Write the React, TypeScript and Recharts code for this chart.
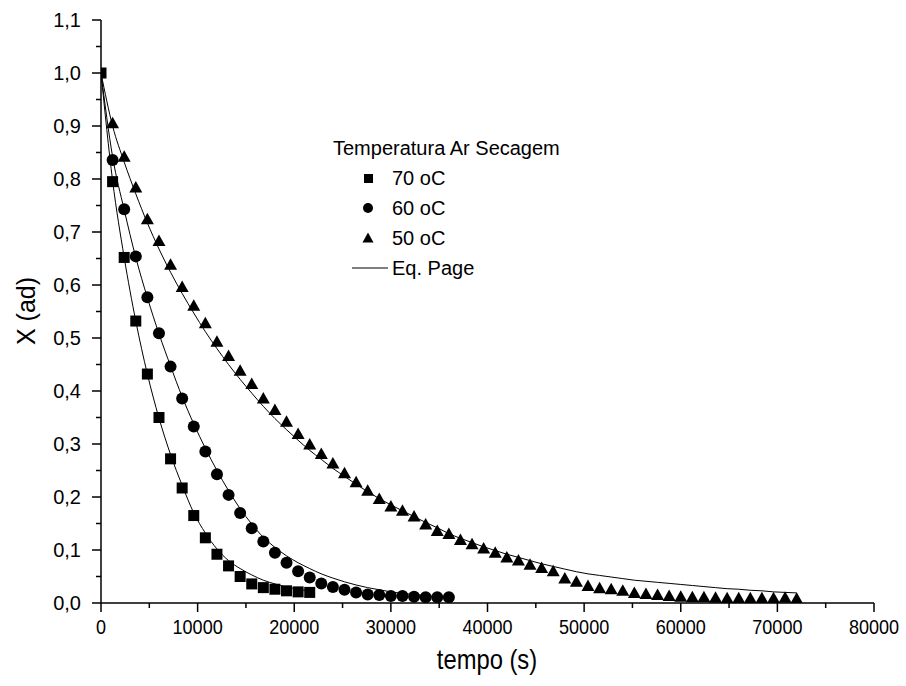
import { ComposedChart, Scatter, Line, XAxis, YAxis } from 'recharts'

// tempo (s) of the measured points
const t70 = [0, 1200, 2400, 3600, 4800, 6000, 7200, 8400, 9600, 10800, 12000, 13200, 14400, 15600, 16800, 18000, 19200, 20400, 21600]
const t60 = [0, 1200, 2400, 3600, 4800, 6000, 7200, 8400, 9600, 10800, 12000, 13200, 14400, 15600, 16800, 18000, 19200, 20400, 21600, 22800, 24000, 25200, 26400, 27600, 28800, 30000, 31200, 32400, 33600, 34800, 36000]
const t50 = [0, 1200, 2400, 3600, 4800, 6000, 7200, 8400, 9600, 10800, 12000, 13200, 14400, 15600, 16800, 18000, 19200, 20400, 21600, 22800, 24000, 25200, 26400, 27600, 28800, 30000, 31200, 32400, 33600, 34800, 36000, 37200, 38400, 39600, 40800, 42000, 43200, 44400, 45600, 46800, 48000, 49200, 50400, 51600, 52800, 54000, 55200, 56400, 57600, 58800, 60000, 61200, 62400, 63600, 64800, 66000, 67200, 68400, 69600, 70800, 72000]

// X (ad) measured
const x70 = [1.0, 0.795, 0.652, 0.532, 0.432, 0.35, 0.272, 0.217, 0.165, 0.123, 0.092, 0.07, 0.05, 0.036, 0.029, 0.026, 0.023, 0.021, 0.02]
const x60 = [1.0, 0.836, 0.743, 0.654, 0.577, 0.509, 0.446, 0.386, 0.333, 0.286, 0.243, 0.204, 0.17, 0.141, 0.116, 0.095, 0.076, 0.06, 0.048, 0.037, 0.03, 0.025, 0.02, 0.016, 0.015, 0.013, 0.013, 0.012, 0.011, 0.011, 0.011]
const x50 = [1.0, 0.905, 0.842, 0.784, 0.724, 0.683, 0.638, 0.596, 0.561, 0.528, 0.493, 0.466, 0.438, 0.413, 0.386, 0.364, 0.342, 0.319, 0.299, 0.281, 0.263, 0.245, 0.228, 0.212, 0.196, 0.182, 0.174, 0.163, 0.148, 0.136, 0.13, 0.119, 0.111, 0.103, 0.095, 0.086, 0.08, 0.072, 0.066, 0.06, 0.046, 0.04, 0.032, 0.028, 0.026, 0.023, 0.019, 0.017, 0.015, 0.013, 0.012, 0.011, 0.011, 0.01, 0.009, 0.009, 0.009, 0.009, 0.009, 0.01, 0.008]

// Eq. Page curves at the same times
const page70 = [1.0, 0.797, 0.652, 0.532, 0.432, 0.349, 0.28, 0.222, 0.17, 0.132, 0.102, 0.08, 0.065, 0.053, 0.043, 0.036, 0.03, 0.026, 0.022]
const page60 = [1.0, 0.842, 0.742, 0.652, 0.576, 0.508, 0.447, 0.389, 0.338, 0.292, 0.25, 0.212, 0.178, 0.149, 0.124, 0.105, 0.089, 0.076, 0.065, 0.055, 0.047, 0.04, 0.034, 0.029, 0.025, 0.021, 0.018, 0.016, 0.014, 0.012, 0.011]
const page50 = [1.0, 0.9, 0.832, 0.772, 0.717, 0.668, 0.624, 0.584, 0.547, 0.512, 0.48, 0.45, 0.422, 0.396, 0.371, 0.348, 0.327, 0.307, 0.288, 0.271, 0.254, 0.239, 0.224, 0.21, 0.197, 0.185, 0.174, 0.163, 0.152, 0.142, 0.131, 0.122, 0.114, 0.106, 0.099, 0.092, 0.086, 0.08, 0.074, 0.069, 0.064, 0.059, 0.055, 0.052, 0.049, 0.046, 0.043, 0.041, 0.039, 0.037, 0.035, 0.033, 0.031, 0.029, 0.027, 0.026, 0.024, 0.023, 0.021, 0.02, 0.019]

const xTicks = [0, 5000, 10000, 15000, 20000, 25000, 30000, 35000, 40000, 45000, 50000, 55000, 60000, 65000, 70000, 75000, 80000]
const xMajor = [0, 10000, 20000, 30000, 40000, 50000, 60000, 70000, 80000]
const yTicks = [0, 0.05, 0.1, 0.15, 0.2, 0.25, 0.3, 0.35, 0.4, 0.45, 0.5, 0.55, 0.6, 0.65, 0.7, 0.75, 0.8, 0.85, 0.9, 0.95, 1.0, 1.05, 1.1]
const yMajor = [0, 0.1, 0.2, 0.3, 0.4, 0.5, 0.6, 0.7, 0.8, 0.9, 1.0, 1.1]
const yLabels = ['0,0', '0,1', '0,2', '0,3', '0,4', '0,5', '0,6', '0,7', '0,8', '0,9', '1,0', '1,1']

const legendItems = ['70 oC', '60 oC', '50 oC']

const pts = (ts: number[], vs: number[]) => ts.map((t, i) => ({ t, v: vs[i] }))

const FONT = '"Liberation Sans", Arial, sans-serif'

const Square = (p: any) => <rect x={p.cx - 5.5} y={p.cy - 5.5} width={11} height={11} fill="#000" />
const Circle = (p: any) => <circle cx={p.cx} cy={p.cy} r={6} fill="#000" />
const Triangle = (p: any) => (
  <polygon points={`${p.cx - 6.5},${p.cy + 5} ${p.cx + 6.5},${p.cy + 5} ${p.cx},${p.cy - 6.5}`} fill="#000" />
)

function XTick(p: any) {
  const v = p.payload.value
  const major = xMajor.includes(v)
  return (
    <g>
      <line x1={p.x} x2={p.x} y1={p.y} y2={p.y + (major ? 9 : 5)} stroke="#000" strokeWidth={1.5} />
      {major && (
        <text x={p.x} y={p.y + 31} textAnchor="middle" fontSize={21} fontFamily={FONT} fill="#000"
          transform={`translate(${p.x} 0) scale(0.86 1) translate(${-p.x} 0)`}>
          {v}
        </text>
      )}
    </g>
  )
}

function YTick(p: any) {
  const v = p.payload.value
  const idx = yMajor.findIndex((m) => Math.abs(m - v) < 1e-6)
  const major = idx >= 0
  return (
    <g>
      <line x1={p.x} x2={p.x - (major ? 9 : 5)} y1={p.y} y2={p.y} stroke="#000" strokeWidth={1.5} />
      {major && (
        <text x={p.x - 20} y={p.y + 7} textAnchor="end" fontSize={20} fontFamily={FONT} fill="#000">
          {yLabels[idx]}
        </text>
      )}
    </g>
  )
}

export default function App() {
  return (
    <div style={{ position: 'absolute', left: 0, top: 0, width: 906, height: 686, background: '#fff' }}>
      <ComposedChart width={906} height={686} margin={{ top: 20, right: 32, left: 0, bottom: 0 }}>
        <XAxis type="number" dataKey="t" domain={[0, 80000]} ticks={xTicks} interval={0} height={83}
          tickSize={0} tickMargin={0} tickLine={false} tick={XTick}
          axisLine={{ stroke: '#000', strokeWidth: 1.5 }} allowDataOverflow />
        <YAxis type="number" dataKey="v" domain={[0, 1.1]} ticks={yTicks} interval={0} width={101}
          tickSize={0} tickMargin={0} tickLine={false} tick={YTick}
          axisLine={{ stroke: '#000', strokeWidth: 1.5 }} allowDataOverflow />
        <Line data={pts(t50, page50)} dataKey="v" type="monotone" dot={false} stroke="#000" strokeWidth={1} isAnimationActive={false} />
        <Line data={pts(t60, page60)} dataKey="v" type="monotone" dot={false} stroke="#000" strokeWidth={1} isAnimationActive={false} />
        <Line data={pts(t70, page70)} dataKey="v" type="monotone" dot={false} stroke="#000" strokeWidth={1} isAnimationActive={false} />
        <Scatter data={pts(t50.slice(1), x50.slice(1))} dataKey="v" shape={Triangle} isAnimationActive={false} />
        <Scatter data={pts(t60.slice(1), x60.slice(1))} dataKey="v" shape={Circle} isAnimationActive={false} />
        <Scatter data={pts(t70, x70)} dataKey="v" shape={Square} isAnimationActive={false} />
      </ComposedChart>
      <svg width={906} height={686} style={{ position: 'absolute', left: 0, top: 0, pointerEvents: 'none' }} fontFamily={FONT}>
        <text x={487} y={669} textAnchor="middle" fontSize={27} transform="translate(487 0) scale(0.88 1) translate(-487 0)">tempo (s)</text>
        <text x={0} y={0} textAnchor="middle" fontSize={25} transform="translate(35 311) rotate(-90)">X (ad)</text>
        <text x={333} y={155} fontSize={20}>Temperatura Ar Secagem</text>
        <rect x={364} y={174} width={9} height={9} fill="#000" />
        <circle cx={368} cy={208} r={5} fill="#000" />
        <polygon points="362.5,242.5 373.5,242.5 368,232.5" fill="#000" />
        <line x1={352} x2={388} y1={268} y2={268} stroke="#000" strokeWidth={1} />
        {legendItems.map((s, i) => (
          <text key={s} x={392} y={185 + i * 30} fontSize={20}>{s}</text>
        ))}
        <text x={392} y={275} fontSize={20}>Eq. Page</text>
      </svg>
    </div>
  )
}
